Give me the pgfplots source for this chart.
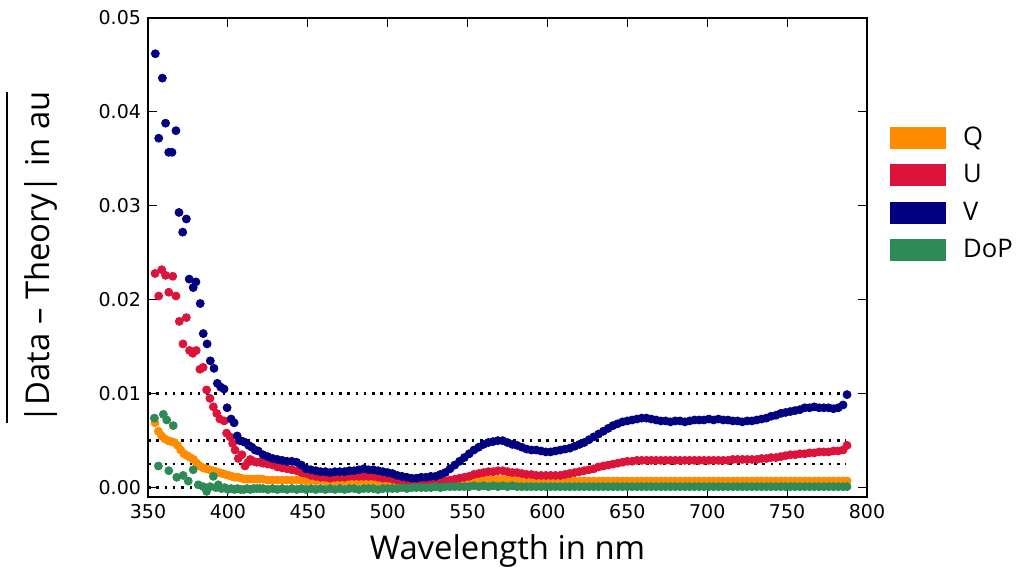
\documentclass[border=0pt]{standalone}
\usepackage{pgfplots}
\usepackage{pgfplotstable}
\pgfplotsset{compat=1.18}
\usepackage{fontspec}
\setmainfont{Open Sans}
\newfontfamily\dejavu{DejaVu Sans}
\definecolor{qcol}{RGB}{255,140,0}
\definecolor{ucol}{RGB}{220,20,60}
\definecolor{vcol}{RGB}{0,0,128}
\definecolor{dcol}{RGB}{46,139,87}

\pgfplotstableread{
x q
354.4 0.0069
356.5 0.0060
358.5 0.0055
360.5 0.0052
362.5 0.0050
364.5 0.0049
366.5 0.0048
368.5 0.0045
370.5 0.0040
372.5 0.0036
374.5 0.0034
376.5 0.0032
378.5 0.0030
380.5 0.0026
382.5 0.0023
384.5 0.0021
386.5 0.0020
388.5 0.0019
390.5 0.0018
392.5 0.0017
394.5 0.0016
396.5 0.0015
398.5 0.0014
400.5 0.0013
402.5 0.0012
404.5 0.0011
406.5 0.0011
408.5 0.0010
410.5 0.0009
412.5 0.0009
414.5 0.0009
416.5 0.0009
418.5 0.0009
420.0 0.0009
}\qearly

\pgfplotstableread{
x u
354.4 0.0228
356.7 0.0204
358.6 0.0232
361.0 0.0226
363.0 0.0208
365.5 0.0225
367.5 0.0204
369.6 0.0177
371.9 0.0153
374.0 0.0181
376.0 0.0146
378.0 0.0143
380.2 0.0146
382.5 0.0126
384.5 0.0128
386.7 0.0104
388.8 0.0095
390.9 0.0086
393.0 0.0079
395.0 0.0073
397.7 0.0071
399.2 0.0058
401.3 0.0054
403.0 0.0047
404.5 0.0040
406.5 0.0031
408.8 0.0035
410.7 0.0023
412.5 0.0027
414.0 0.0030
416.0 0.0028
418.0 0.0027
420.0 0.0027
}\uearly

\pgfplotstableread{
x v
354.6 0.0462
356.7 0.0372
359.0 0.0436
361.0 0.0388
363.0 0.0357
365.0 0.0357
367.5 0.0380
369.4 0.0293
371.7 0.0272
374.0 0.0286
375.8 0.0222
378.3 0.0213
380.0 0.0219
382.7 0.0196
384.6 0.0164
387.0 0.0153
389.0 0.0135
391.3 0.0127
393.4 0.0111
395.5 0.0107
397.6 0.0105
399.5 0.0085
402.0 0.0073
403.9 0.0069
405.8 0.0055
407.5 0.0050
409.5 0.0049
411.0 0.0048
413.0 0.0045
415.0 0.0043
417.0 0.0040
419.0 0.0039
}\vearly

\pgfplotstableread{
x d
354.0 0.0074
356.5 0.0023
359.6 0.0078
361.7 0.0072
363.0 0.0018
365.8 0.0066
368.0 0.0011
372.0 0.0013
375.2 0.0007
378.3 0.0019
381.5 0.0003
384.6 0.0001
386.7 -0.0004
388.8 0.0001
390.9 0.0012
392.5 0.0000
394.0 0.0003
396.0 -0.0001
398.0 0.0000
400.0 -0.0002
402.0 -0.0001
404.0 -0.0002
406.0 -0.0001
408.0 -0.0002
410.0 -0.0002
412.0 -0.0001
414.0 -0.0002
416.0 -0.0001
418.0 -0.0001
420.0 -0.0001
}\dearly

\pgfplotstableread{
x q u v d
422 0.0009 0.0026 0.0035 -0.0001
425 0.0008 0.0025 0.0033 -0.0002
428 0.0008 0.0024 0.0031 -0.0001
431 0.0008 0.0022 0.0030 -0.0002
434 0.0008 0.0021 0.0029 -0.0001
437 0.0008 0.0020 0.0028 -0.0002
440 0.0008 0.0019 0.0028 -0.0001
443 0.0008 0.0018 0.0027 -0.0002
446 0.0008 0.0016 0.0024 -0.0001
449 0.0007 0.0015 0.0020 -0.0002
452 0.0008 0.0013 0.0019 -0.0001
455 0.0007 0.0012 0.0018 -0.0002
458 0.0008 0.0011 0.0017 -0.0001
461 0.0007 0.0011 0.0017 -0.0002
464 0.0007 0.0010 0.0016 -0.0001
467 0.0007 0.0011 0.0017 -0.0002
470 0.0007 0.0011 0.0017 -0.0001
473 0.0007 0.0011 0.0017 -0.0002
476 0.0007 0.0012 0.0018 -0.0001
479 0.0007 0.0012 0.0018 -0.0001
482 0.0007 0.0012 0.0019 -0.0002
485 0.0007 0.0012 0.0020 -0.0001
488 0.0007 0.0012 0.0019 -0.0001
491 0.0007 0.0012 0.0019 -0.0001
494 0.0007 0.0011 0.0018 -0.0002
497 0.0006 0.0010 0.0017 -0.0001
500 0.0006 0.0010 0.0016 -0.0001
503 0.0006 0.0009 0.0015 -0.0001
506 0.0005 0.0008 0.0013 -0.0001
509 0.0005 0.0008 0.0012 0.0000
512 0.0005 0.0007 0.0011 -0.0001
515 0.0005 0.0007 0.0010 0.0000
518 0.0005 0.0006 0.0010 0.0000
521 0.0005 0.0006 0.0011 0.0000
524 0.0005 0.0006 0.0011 0.0000
527 0.0005 0.0006 0.0012 0.0000
530 0.0005 0.0006 0.0012 0.0001
533 0.0005 0.0006 0.0014 0.0000
536 0.0006 0.0007 0.0016 0.0001
539 0.0006 0.0008 0.0020 0.0001
542 0.0006 0.0009 0.0024 0.0001
545 0.0007 0.0010 0.0028 0.0001
548 0.0007 0.0011 0.0032 0.0001
551 0.0008 0.0012 0.0036 0.0001
554 0.0008 0.0014 0.0040 0.0002
557 0.0008 0.0015 0.0043 0.0001
560 0.0009 0.0016 0.0046 0.0002
563 0.0009 0.0017 0.0048 0.0001
566 0.0009 0.0017 0.0049 0.0002
569 0.0009 0.0018 0.0050 0.0001
572 0.0009 0.0018 0.0050 0.0002
575 0.0009 0.0017 0.0048 0.0001
578 0.0009 0.0016 0.0046 0.0002
581 0.0008 0.0016 0.0045 0.0001
584 0.0008 0.0015 0.0043 0.0001
587 0.0008 0.0014 0.0041 0.0001
590 0.0008 0.0014 0.0040 0.0001
593 0.0008 0.0013 0.0040 0.0001
596 0.0007 0.0013 0.0039 0.0001
599 0.0007 0.0013 0.0038 0.0001
602 0.0007 0.0013 0.0038 0.0001
605 0.0007 0.0013 0.0039 0.0001
608 0.0007 0.0013 0.0040 0.0001
611 0.0007 0.0014 0.0041 0.0001
614 0.0007 0.0015 0.0042 0.0001
617 0.0007 0.0016 0.0044 0.0001
620 0.0007 0.0017 0.0046 0.0001
623 0.0007 0.0018 0.0048 0.0001
626 0.0007 0.0019 0.0051 0.0001
629 0.0007 0.0020 0.0054 0.0001
632 0.0007 0.0022 0.0057 0.0001
635 0.0007 0.0023 0.0060 0.0001
638 0.0007 0.0024 0.0063 0.0001
641 0.0007 0.0025 0.0066 0.0001
644 0.0007 0.0026 0.0068 0.0001
647 0.0007 0.0027 0.0070 0.0001
650 0.0007 0.0028 0.0071 0.0001
653 0.0007 0.0028 0.0072 0.0001
656 0.0007 0.0029 0.0073 0.0001
659 0.0007 0.0029 0.0074 0.0001
662 0.0007 0.0029 0.0074 0.0001
665 0.0007 0.0029 0.0073 0.0001
668 0.0007 0.0029 0.0072 0.0001
671 0.0007 0.0029 0.0071 0.0001
674 0.0007 0.0029 0.0071 0.0001
677 0.0007 0.0029 0.0070 0.0001
680 0.0007 0.0029 0.0071 0.0001
683 0.0007 0.0029 0.0071 0.0001
686 0.0007 0.0029 0.0070 0.0001
689 0.0007 0.0029 0.0071 0.0001
692 0.0007 0.0029 0.0072 0.0001
695 0.0007 0.0029 0.0072 0.0001
698 0.0007 0.0029 0.0072 0.0001
701 0.0007 0.0029 0.0073 0.0001
704 0.0007 0.0029 0.0072 0.0001
707 0.0007 0.0029 0.0073 0.0001
710 0.0007 0.0029 0.0072 0.0001
713 0.0007 0.0029 0.0072 0.0001
716 0.0007 0.0030 0.0071 0.0001
719 0.0007 0.0030 0.0071 0.0001
722 0.0007 0.0030 0.0070 0.0001
725 0.0007 0.0030 0.0071 0.0001
728 0.0007 0.0030 0.0071 0.0001
731 0.0007 0.0030 0.0072 0.0001
734 0.0007 0.0031 0.0073 0.0001
737 0.0007 0.0031 0.0074 0.0001
740 0.0007 0.0032 0.0076 0.0001
743 0.0007 0.0032 0.0077 0.0001
746 0.0007 0.0033 0.0079 0.0001
749 0.0007 0.0034 0.0080 0.0001
752 0.0007 0.0035 0.0081 0.0001
755 0.0007 0.0035 0.0082 0.0001
758 0.0007 0.0036 0.0083 0.0001
761 0.0007 0.0036 0.0085 0.0001
764 0.0007 0.0037 0.0085 0.0001
767 0.0007 0.0037 0.0086 0.0001
770 0.0007 0.0038 0.0085 0.0001
773 0.0007 0.0038 0.0085 0.0001
776 0.0007 0.0038 0.0085 0.0001
779 0.0007 0.0039 0.0084 0.0001
782 0.0007 0.0039 0.0085 0.0001
785 0.0007 0.0040 0.0088 0.0001
787.5 0.0007 0.0045 0.0099 0.0001
}\main

\begin{document}
\begin{tikzpicture}
\begin{axis}[
  name=ax,
  scale only axis,
  width=359.5pt, height=239.5pt,
  xmin=350, xmax=800, ymin=-0.001, ymax=0.05,
  xtick={350,400,450,500,550,600,650,700,750,800},
  ytick={0,0.01,0.02,0.03,0.04,0.05},
  scaled y ticks=false,
  yticklabel style={/pgf/number format/.cd, fixed, fixed zerofill, precision=2},
  /pgf/number format/assume math mode=true,
  tick label style={font=\dejavu\fontsize{9.5}{11}\selectfont},
  tick align=inside, xtick pos=both, ytick pos=both,
  major tick length=4.5pt,
  tick style={line width=0.5pt, black},
  axis line style={line width=1.2pt},
  xlabel={Wavelength in nm},
  xlabel style={font=\fontsize{16.4}{19}\selectfont, at={(axis description cs:0.5,-0.1315)}, anchor=base},
  ylabel={\setlength{\arrayrulewidth}{0.8pt}\begin{tabular}[b]{@{}c@{}}\hline\rule{0pt}{21pt}|Data – Theory| in au\end{tabular}},
  ylabel style={font=\fontsize{16.4}{19}\selectfont, at={(axis description cs:-0.1363,0.5)}, anchor=base},
  legend style={draw=none, fill=none, at={(axis description cs:1.032,0.782)}, anchor=north west,
    inner sep=0pt, font=\fontsize{12.8}{15}\selectfont, row sep=4.1pt,
    /tikz/every odd column/.append style={column sep=6.5pt}},
  legend cell align=left,
]
\addplot[black, line width=1.3pt, dash pattern=on 1.3pt off 2.85pt, forget plot] coordinates {(350,0.01) (787,0.01)};
\addplot[black, line width=1.3pt, dash pattern=on 1.3pt off 2.85pt, forget plot] coordinates {(350,0.005) (787,0.005)};
\addplot[black, line width=1.3pt, dash pattern=on 1.3pt off 2.85pt, forget plot] coordinates {(350,0.0025) (787,0.0025)};
\addplot[black, line width=1.3pt, dash pattern=on 1.3pt off 2.85pt, forget plot] coordinates {(350,0) (787,0)};

\addplot[only marks, mark=*, mark size=2pt, color=qcol, forget plot] table[x=x,y=q] {\qearly};
\addplot[only marks, mark=*, mark size=2pt, color=qcol, forget plot] table[x=x,y=q] {\main};
\addplot[only marks, mark=*, mark size=2pt, color=ucol, forget plot] table[x=x,y=u] {\uearly};
\addplot[only marks, mark=*, mark size=2pt, color=ucol, forget plot] table[x=x,y=u] {\main};
\addplot[only marks, mark=*, mark size=2pt, color=vcol, forget plot] table[x=x,y=v] {\vearly};
\addplot[only marks, mark=*, mark size=2pt, color=vcol, forget plot] table[x=x,y=v] {\main};
\addplot[only marks, mark=*, mark size=2pt, color=dcol, forget plot] table[x=x,y=d] {\dearly};
\addplot[only marks, mark=*, mark size=2pt, color=dcol, forget plot] table[x=x,y=d] {\main};

\addlegendimage{legend image code/.code={\fill[qcol] (0pt,-5.25pt) rectangle (27.5pt,5.25pt);}}
\addlegendentry{Q}
\addlegendimage{legend image code/.code={\fill[ucol] (0pt,-5.25pt) rectangle (27.5pt,5.25pt);}}
\addlegendentry{U}
\addlegendimage{legend image code/.code={\fill[vcol] (0pt,-5.25pt) rectangle (27.5pt,5.25pt);}}
\addlegendentry{V}
\addlegendimage{legend image code/.code={\fill[dcol] (0pt,-5.25pt) rectangle (27.5pt,5.25pt);}}
\addlegendentry{DoP}
\end{axis}
\pgfresetboundingbox
\path[use as bounding box] ([xshift=-74pt,yshift=-35.5pt]ax.south west) rectangle ([xshift=74.5pt,yshift=9pt]ax.north east);
\end{tikzpicture}
\end{document}
